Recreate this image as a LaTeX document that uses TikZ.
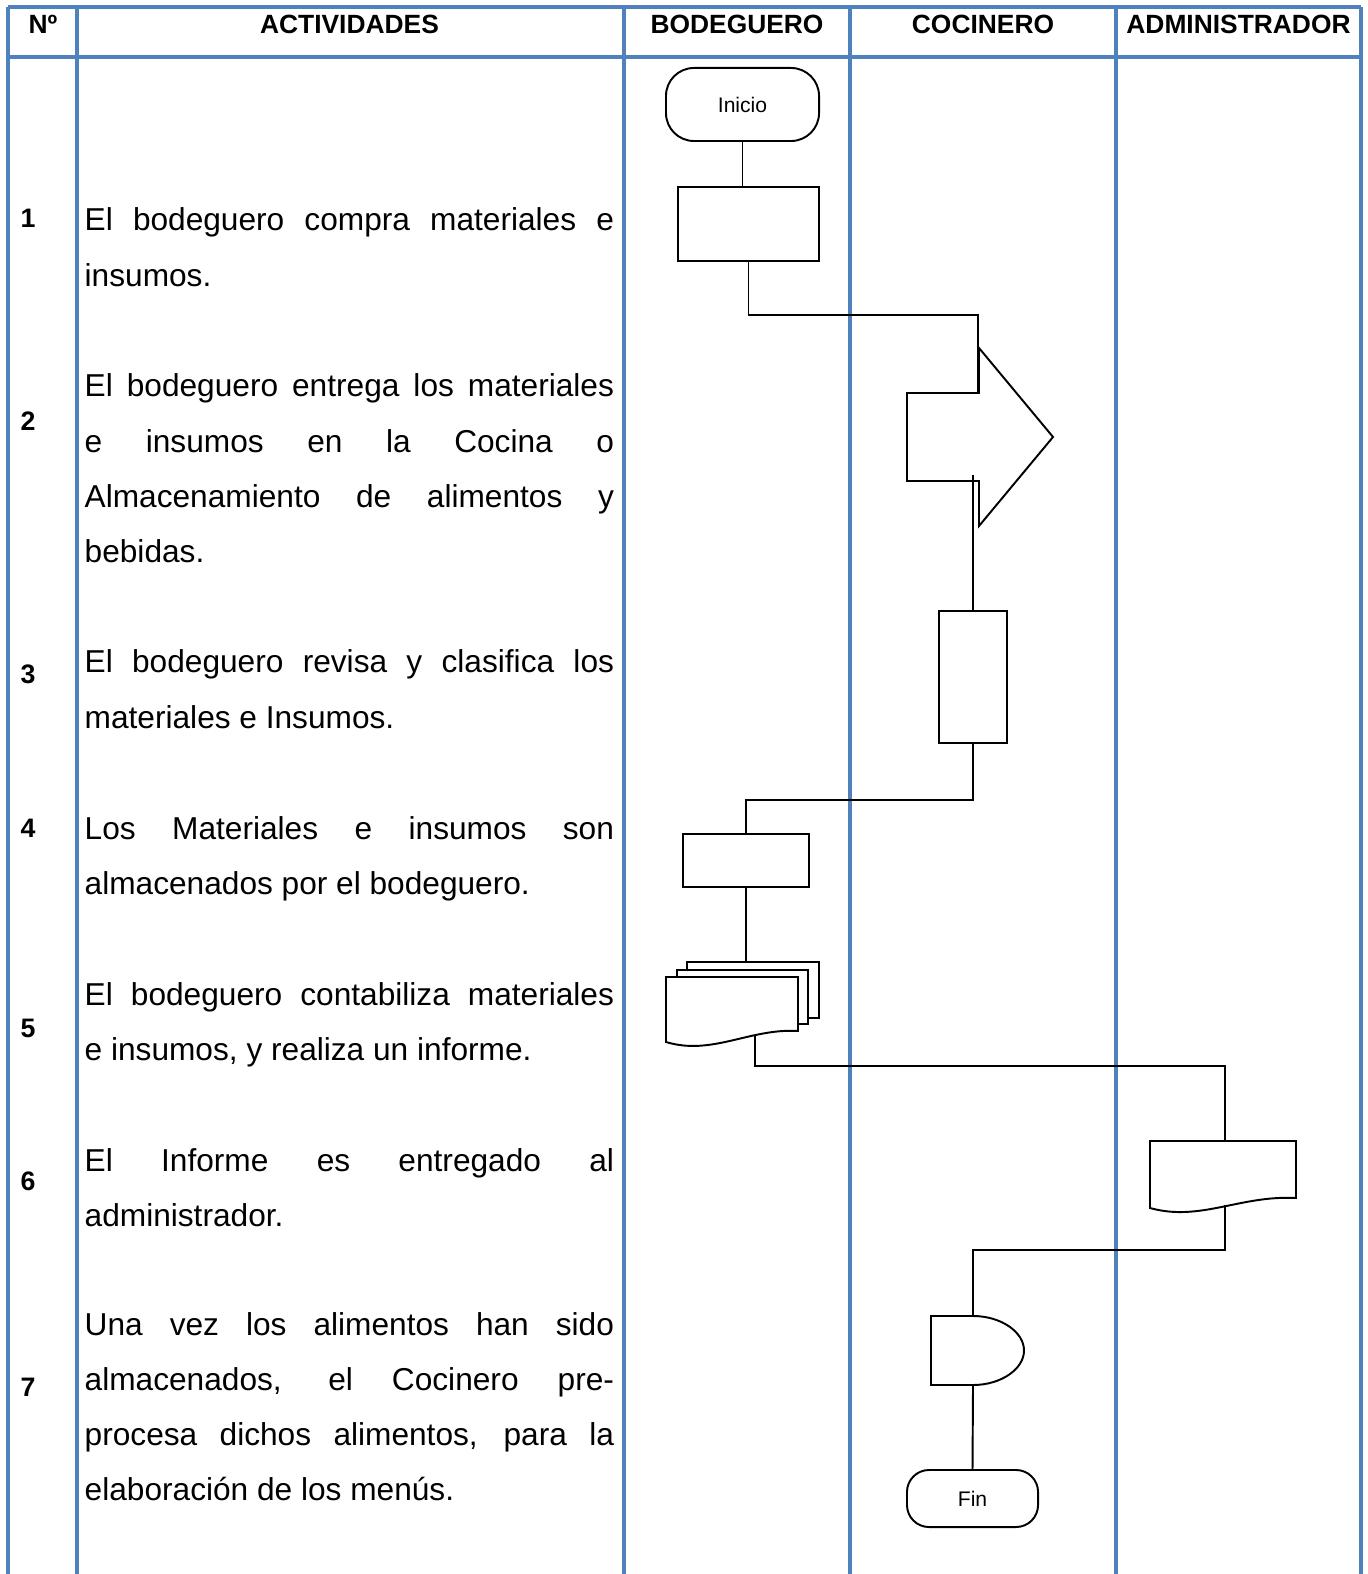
\documentclass[tikz,border=0pt]{standalone}
\usepackage{fontspec}
\setmainfont{Liberation Sans}
\definecolor{gridblue}{RGB}{79,129,189}
\begin{document}
\begin{tikzpicture}[x=0.01cm, y=-0.01cm,
  grid/.style={draw=gridblue, line width=1pt},
  head/.style={anchor=base, inner sep=0, font=\fontsize{7.5}{9}\selectfont\bfseries},
  num/.style={anchor=base west, inner sep=0, font=\fontsize{7.6}{9}\selectfont\bfseries},
  act/.style={anchor=base west, inner sep=0, text width=5.29cm, align=justify, font=\fontsize{9}{15.65}\selectfont\sloppy},
  box/.style={draw, line width=0.55pt, inner sep=0},
  term/.style={draw, line width=0.55pt, rounded corners=0.28cm, inner sep=0, font=\fontsize{6}{7}\selectfont},
  flow/.style={line width=0.55pt}]
\useasboundingbox (0,0) rectangle (1367,1574);
\draw[grid] (8,7) -- (1361,7);
\draw[grid] (8,57) -- (1361,57);
\foreach \x in {8,77,624,850,1116,1361}
  \draw[grid] (\x,7) -- (\x,1574);
\node[head] (hn) at (43,34) {Nº};
\node[head] (hact) at (349.5,34) {ACTIVIDADES};
\node[head] (hbod) at (737,34) {BODEGUERO};
\node[head] (hcoc) at (983,34) {COCINERO};
\node[head] (hadm) at (1238.5,34) {ADMINISTRADOR};
\node[num] (n1) at (20,228) {1};
\node[num] (n2) at (20,431) {2};
\node[num] (n3) at (20,684) {3};
\node[num] (n4) at (20,837) {4};
\node[num] (n5) at (20,1037) {5};
\node[num] (n6) at (20,1190) {6};
\node[num] (n7) at (20,1396) {7};
\node[act] (t1) at (84,231) {El bodeguero compra materiales e\linebreak insumos.};
\node[act] (t2) at (84,397) {El bodeguero entrega los materiales\linebreak e insumos en la Cocina o\linebreak Almacenamiento de alimentos y\linebreak bebidas.};
\node[act] (t3) at (84,673) {El bodeguero revisa y clasifica los\linebreak materiales e Insumos.};
\node[act] (t4) at (84,839) {Los Materiales e insumos son\linebreak almacenados por el bodeguero.};
\node[act] (t5) at (84,1005) {El bodeguero contabiliza materiales\linebreak e insumos, y realiza un informe.};
\node[act] (t6) at (84,1171) {El Informe es entregado al\linebreak administrador.};
\node[act] (t7) at (84,1335) {Una vez los alimentos han sido\linebreak almacenados, el Cocinero pre-\linebreak procesa dichos alimentos, para la\linebreak elaboración de los menús.};
\node[term, minimum width=1.53cm, minimum height=0.73cm] (ini) at (742.5,104.5) {Inicio};
\node[box, minimum width=1.41cm, minimum height=0.74cm] (a1) at (748.5,224) {};
\draw[flow] (907,393) -- (979,393) -- (979,348) -- (1053,437) -- (979,526) -- (979,481) -- (907,481) -- cycle;
\coordinate (a2t) at (978,393);
\coordinate (a2b) at (973,475);
\node[box, minimum width=0.68cm, minimum height=1.32cm] (a3) at (973,677) {};
\node[box, minimum width=1.26cm, minimum height=0.53cm] (a4) at (746,860.5) {};
\draw[flow, fill=white] (687,962) rectangle (819,1018);
\draw[flow, fill=white] (677,970) rectangle (808,1024);
\draw[flow, fill=white] (666,977) -- (798,977) -- (798,1031) .. controls (750,1028) and (712,1056) .. (666,1042) -- cycle;
\coordinate (a5t) at (746,962);
\coordinate (a5b) at (755,1035);
\draw[flow] (1150,1141) -- (1296,1141) -- (1296,1198) .. controls (1240,1195) and (1200,1222) .. (1150,1208) -- cycle;
\coordinate (a6t) at (1225,1141);
\coordinate (a6b) at (1225,1205);
\draw[flow] (931,1316) -- (973,1316) .. controls (1001,1316) and (1024,1332) .. (1024,1350.5) .. controls (1024,1369) and (1001,1385) .. (973,1385) -- (931,1385) -- cycle;
\coordinate (a7t) at (973,1316);
\coordinate (a7b) at (973,1385);
\node[term, minimum width=1.31cm, minimum height=0.57cm, rounded corners=0.22cm] (fin) at (972.5,1498.5) {Fin};
\draw[flow] (ini.south) -- (ini.south |- a1.north);
\draw[flow] (a1.south) -- ++(0,53) -| (a2t);
\draw[flow] (a2b) -- (a3.north);
\draw[flow] (a3.south) -- ++(0,56) -| (a4.north);
\draw[flow] (a4.south) -- (a5t);
\draw[flow] (a5b) -- ++(0,31) -| (a6t);
\draw[flow] (a6b) -- ++(0,45) -| (a7t);
\draw[flow] (a7b) -- (fin.north);
\end{tikzpicture}
\end{document}
